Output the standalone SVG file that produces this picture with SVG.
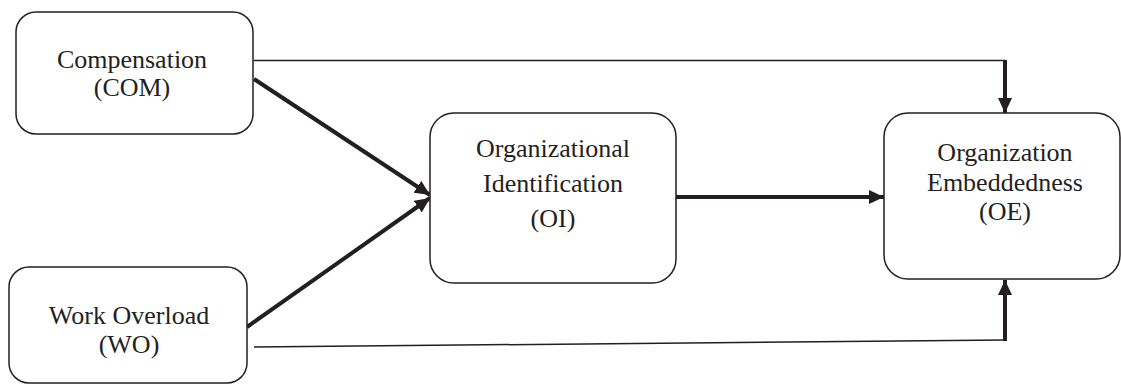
<svg xmlns="http://www.w3.org/2000/svg" width="1121" height="385" viewBox="0 0 1121 385">
<style>
.box{fill:#fff;stroke:#231f20;stroke-width:1.5}
.t{font-family:"Liberation Serif","Times New Roman",serif;font-size:26px;fill:#231f20;text-anchor:middle}
.thick{stroke:#231f20;stroke-width:4;fill:none}
.thin{stroke:#231f20;stroke-width:1.5;fill:none}
</style>
<defs>
<marker id="ah" markerUnits="userSpaceOnUse" markerWidth="15" markerHeight="14" refX="15" refY="7" orient="auto">
<path d="M0,0 L15,7 L0,14 Z" fill="#231f20"/>
</marker>
</defs>
<g id="connectors">
<polyline class="thin" points="254,60.5 1005,60.5 1005,98"/>
<line class="thick" x1="1005" y1="60" x2="1005" y2="113" marker-end="url(#ah)"/>
<polyline class="thin" points="254,347 1005,340"/>
<line class="thick" x1="1005" y1="341" x2="1005" y2="280" marker-end="url(#ah)"/>
<line class="thick" x1="254" y1="79" x2="430" y2="195" marker-end="url(#ah)"/>
<line class="thick" x1="247" y1="327" x2="430" y2="198" marker-end="url(#ah)"/>
<line class="thick" x1="676" y1="197" x2="884" y2="197" marker-end="url(#ah)"/>
</g>
<g id="com">
<rect class="box" x="16" y="12" width="237" height="122" rx="20"/>
<text class="t" x="132" y="68">Compensation</text>
<text class="t" x="132" y="96">(COM)</text>
</g>
<g id="wo">
<rect class="box" x="9" y="267" width="238" height="116" rx="20"/>
<text class="t" x="129" y="324">Work Overload</text>
<text class="t" x="129" y="353">(WO)</text>
</g>
<g id="oi">
<rect class="box" x="430" y="113" width="246" height="170" rx="24"/>
<text class="t" x="553" y="157">Organizational</text>
<text class="t" x="553" y="192">Identification</text>
<text class="t" x="553" y="227">(OI)</text>
</g>
<g id="oe">
<rect class="box" x="884" y="113" width="236" height="166" rx="24"/>
<text class="t" x="1005" y="161">Organization</text>
<text class="t" x="1005" y="191">Embeddedness</text>
<text class="t" x="1005" y="220">(OE)</text>
</g>
</svg>
